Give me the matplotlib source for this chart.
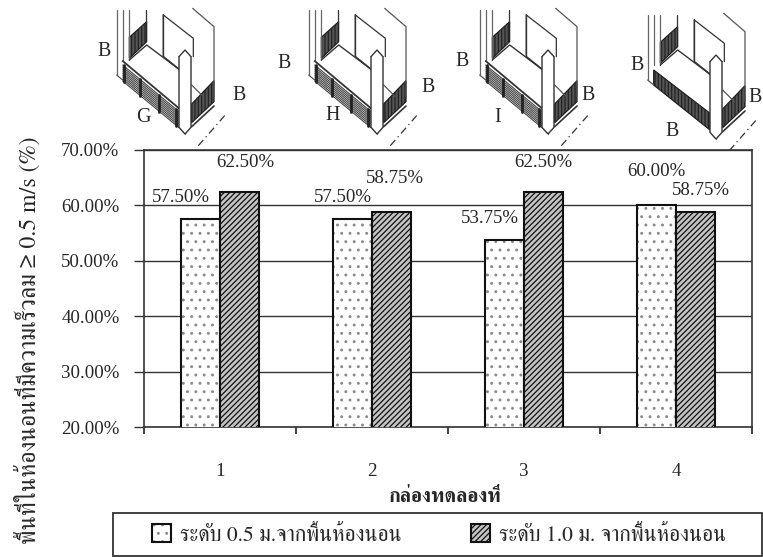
import matplotlib
matplotlib.use('Agg')
import matplotlib.pyplot as plt
from matplotlib.colors import to_rgba
from matplotlib.patches import Polygon, Rectangle

plt.rcParams['hatch.linewidth'] = 0.9

# ---------- data ----------
categories = [1, 2, 3, 4]
level_05 = [57.50, 57.50, 53.75, 60.00]
level_10 = [62.50, 58.75, 62.50, 58.75]
series_05_name = "ระดับ 0.5 ม.จากพื้นห้องนอน"
series_10_name = "ระดับ 1.0 ม. จากพื้นห้องนอน"
x_title = "กล่องทดลองที่"
y_title = "พื้นที่ในห้องนอนที่มีความเร็วลม ≥ 0.5 m/s (%)"
y_ticks = [20, 30, 40, 50, 60, 70]

SERIF = ['Liberation Serif', 'FreeSerif', 'DejaVu Sans']
THAI = ['FreeSerif', 'Noto Serif Thai', 'DejaVu Sans']
INK = '#262626'
NUM_SIZE = 13.6

W, H = 763, 557
fig = plt.figure(figsize=(W / 100, H / 100), dpi=100)
ax = fig.add_axes([144 / W, 1 - 427 / H, (752 - 144) / W, (427 - 150) / H])

bw = 0.254
b1 = ax.bar([c - bw / 2 for c in categories], level_05, bw, facecolor='white',
            edgecolor='#111111', hatch='..', linewidth=1.5, label=series_05_name, zorder=3)
b2 = ax.bar([c + bw / 2 for c in categories], level_10, bw, facecolor='#c4c4c4',
            edgecolor='#111111', hatch='//////', linewidth=1.5, label=series_10_name, zorder=3)
for p in b1:
    p._hatch_color = to_rgba('#8a8a8a')
b1.patches[0]._hatch_color = to_rgba('#8a8a8a')

ax.set_xlim(0.5, 4.5)
ax.set_ylim(20, 70)
ax.set_yticks(y_ticks)
ax.set_yticklabels([f"{v:.2f}%" for v in y_ticks], family=SERIF, fontsize=NUM_SIZE, color=INK)
ax.set_xticks(categories)
ax.set_xticklabels([str(c) for c in categories], family=SERIF, fontsize=NUM_SIZE, color=INK)
ax.set_xticks([c - 0.5 for c in categories] + [4.5], minor=True)
ax.tick_params(axis='x', which='major', length=0, pad=26)
ax.tick_params(axis='x', which='minor', length=5, width=1.2, color='#222222')
ax.tick_params(axis='y', length=7.2, width=1.0, color='#333333', pad=10.5)
ax.yaxis.grid(True, color='#333333', linewidth=1.0, zorder=1)
ax.set_axisbelow(True)
for s in ax.spines.values():
    s.set_color('#333333')
    s.set_linewidth(1.2)

# value labels, each nudged by hand as in the source (pixels from bar-top centre)
off_05 = [(-20, 22), (-10, 22), (-15, 22), (0, 34)]
off_10 = [(6, 29), (4, 34), (0, 29), (6, 22)]
for bars, vals, offs in ((b1, level_05, off_05), (b2, level_10, off_10)):
    for p, v, o in zip(bars, vals, offs):
        ax.annotate(f"{v:.2f}%", (p.get_x() + p.get_width() / 2, v), xytext=o,
                    textcoords='offset pixels', ha='center', va='center',
                    family=SERIF, fontsize=NUM_SIZE, color=INK, annotation_clip=False, zorder=5)

fig.text(445 / W, 1 - 497 / H, x_title, family=THAI, fontsize=14.3, fontweight='bold',
         ha='center', va='center', color=INK)
fig.text(28 / W, 1 - 340 / H, y_title, family=THAI, fontsize=17.2, rotation=90,
         ha='center', va='center', color=INK)

fig.add_artist(Rectangle((113 / W, 1 - 556 / H), 649 / W, 43 / H, transform=fig.transFigure,
                         facecolor='white', edgecolor='#333333', linewidth=1.3, zorder=1))
leg = fig.legend(handles=[b1, b2], loc='center left', ncol=2, frameon=False,
                 bbox_to_anchor=(152 / W, 1 - 535 / H), borderaxespad=0, borderpad=0,
                 prop={'family': THAI, 'size': 15.5},
                 handlelength=0.9, handleheight=0.85, handletextpad=0.42, columnspacing=3.2)
leg.set_zorder(2)
for t in leg.get_texts():
    t.set_color(INK)

# ---------- balcony sketches above the plot (decoration, in pixel space) ----------
ov = fig.add_axes([0, 0, 1, 1], facecolor='none', zorder=-1)
ov.set_xlim(0, W)
ov.set_ylim(H, 0)
ov.axis('off')


def balcony(dx, dy, vertical_front):
    def L(pts, lw=0.9, ls='-', c='#333333'):
        ov.plot([p[0] / 3 + dx for p in pts], [p[1] / 3 + dy for p in pts],
                color=c, lw=lw, ls=ls, solid_capstyle='round')

    def dark(pts):
        ov.add_patch(Polygon([(p[0] / 3 + dx, p[1] / 3 + dy) for p in pts], closed=True,
                             facecolor='#555555', edgecolor='#222222', lw=0.9, hatch='|||||'))

    for x in (350, 368, 388):
        L([(x, 30), (x, 225 if x == 350 else 180)], lw=0.9, c='#666666')
    L([(437, 30), (437, 65)])
    dark([(388, 112), (440, 65), (440, 125), (388, 175)])
    L([(388, 180), (440, 135), (540, 210)], lw=1.0)
    L([(490, 45), (580, 115), (580, 170)])
    L([(490, 45), (490, 170), (540, 210)], lw=1.2)
    L([(578, 25), (642, 80), (642, 290)], c='#555555')
    dark([(575, 312), (642, 242), (642, 305), (575, 368)])
    L([(350, 225), (368, 240)], c='#555555')
    L([(575, 380), (642, 318)], lw=1.2)
    L([(575, 255), (610, 290)], c='#555555')
    if vertical_front:
        dark([(368, 195), (537, 325), (537, 375), (368, 240)])
    else:
        L([(368, 183), (537, 325)], lw=1.3)
        for k in range(9):
            yl, yr = 195 + k * 6, 335 + k * 6
            L([(368, yl), (537, yr)], lw=0.8, c='#444444')
        for xx in (372, 420, 478, 528):
            yy = 183 + (xx - 368) * 0.84
            L([(xx, yy + 10), (xx, yy + 60)], lw=2.0, c='#222222')
    ov.add_patch(Polygon([(p[0] / 3 + dx, p[1] / 3 + dy) for p in
                          [(537, 170), (555, 150), (573, 170), (573, 382), (555, 402), (537, 382)]],
                         closed=True, facecolor='white', edgecolor='#333333', lw=1.0, zorder=4))
    L([(537, 170), (555, 180), (573, 170)])
    L([(555, 180), (555, 402)], c='#777777')
    L([(595, 437), (680, 340)], lw=0.9, ls=(0, (6, 3, 1, 3)))


balcony(0, 0, False)
balcony(192, 0, False)
balcony(363, 0, False)
balcony(531, 5, True)

sketch_letters = [("B", 104, 52), ("B", 239, 95), ("G", 143, 118), ("B", 284, 63), ("B", 428, 87),
                  ("H", 333, 116), ("B", 462, 62), ("B", 588, 95), ("I", 498, 118), ("B", 637, 65),
                  ("B", 755, 98), ("B", 672, 131)]
for s, x, y in sketch_letters:
    ov.text(x, y, s, family=SERIF, fontsize=14.4, ha='center', va='center', color=INK)

fig.savefig('out.png', dpi=100)
